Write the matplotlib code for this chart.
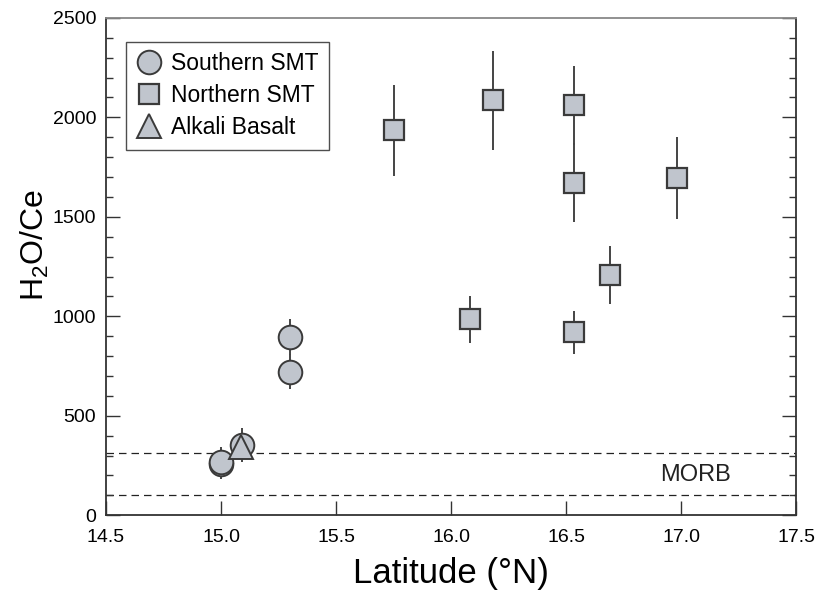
import matplotlib
matplotlib.use("Agg")
import matplotlib.pyplot as plt
from matplotlib.ticker import MultipleLocator

plt.rcParams['font.family'] = ['Liberation Sans', 'DejaVu Sans']
plt.rcParams['mathtext.fontset'] = 'custom'
plt.rcParams['mathtext.rm'] = 'Liberation Sans'
plt.rcParams['mathtext.it'] = 'Liberation Sans:italic'

# latitude (deg N), H2O/Ce and 1-sigma error
south_lat = [15.0, 15.0, 15.09, 15.3, 15.3]
south_val = [258, 268, 352, 895, 722]
south_err = [75, 75, 85, 92, 88]

north_lat = [15.75, 16.18, 16.535, 16.535, 16.98, 16.69, 16.535, 16.08]
north_val = [1935, 2085, 2060, 1672, 1695, 1207, 920, 985]
north_err = [230, 250, 200, 200, 205, 145, 108, 118]

alkali_lat = [15.085]
alkali_val = [345]

morb_range = [100, 312]

face = '#c0c5cd'
edge = '#3a3a3a'

fig = plt.figure(figsize=(8.15, 5.97), dpi=100)
ax = fig.add_axes([0.130, 0.137, 0.847, 0.833])

for lim in morb_range:
    ax.axhline(lim, color='#222222', lw=0.9, ls=(0, (6, 4)), zorder=1)
ax.text(17.06, 200, 'MORB', ha='center', va='center', fontsize=17, color='#222222')

ax.errorbar(south_lat, south_val, yerr=south_err, fmt='none', ecolor='#444444',
            elinewidth=1.4, capsize=0, zorder=2)
ax.errorbar(north_lat, north_val, yerr=north_err, fmt='none', ecolor='#444444',
            elinewidth=1.4, capsize=0, zorder=2)

ax.plot(south_lat, south_val, 'o', ms=17, mfc=face, mec=edge, mew=1.4,
        ls='none', label='Southern SMT', zorder=3)
ax.plot(north_lat, north_val, 's', ms=15, mfc=face, mec=edge, mew=1.6,
        ls='none', label='Northern SMT', zorder=3)
ax.plot(alkali_lat, alkali_val, '^', ms=17, mfc=face, mec=edge, mew=1.4,
        ls='none', label='Alkali Basalt', zorder=4)

ax.set_xlim(14.5, 17.5)
ax.set_ylim(0, 2500)
ax.xaxis.set_major_locator(MultipleLocator(0.5))
ax.yaxis.set_major_locator(MultipleLocator(500))
ax.yaxis.set_minor_locator(MultipleLocator(100))
ax.xaxis.set_major_formatter(matplotlib.ticker.FormatStrFormatter('%.1f'))

ax.tick_params(axis='both', which='major', direction='in', length=10, width=1,
               labelsize=14, color='#333333')
ax.tick_params(axis='x', which='major', pad=10, top=False)
ax.tick_params(axis='y', which='major', right=True, pad=7)
ax.tick_params(axis='y', which='minor', direction='in', left=True, right=True,
               length=5, width=1, color='#333333')

for s in ax.spines.values():
    s.set_color('#333333')
    s.set_linewidth(1.3)
ax.spines['top'].set_color('#888888')

ax.set_xlabel('Latitude (°N)', fontsize=25, labelpad=8)
ax.set_ylabel('H$_2$O/Ce', fontsize=23)
ax.yaxis.set_label_coords(-0.080, 0.543)

leg = ax.legend(loc='upper left', bbox_to_anchor=(0.029, 0.952), fontsize=16.5,
                frameon=True, fancybox=False, borderpad=0.45, handletextpad=0.4,
                labelspacing=0.4, handlelength=1.13, borderaxespad=0)
leg.get_frame().set_edgecolor('#222222')
leg.get_frame().set_linewidth(1.0)

fig.savefig('out.png', dpi=100)
